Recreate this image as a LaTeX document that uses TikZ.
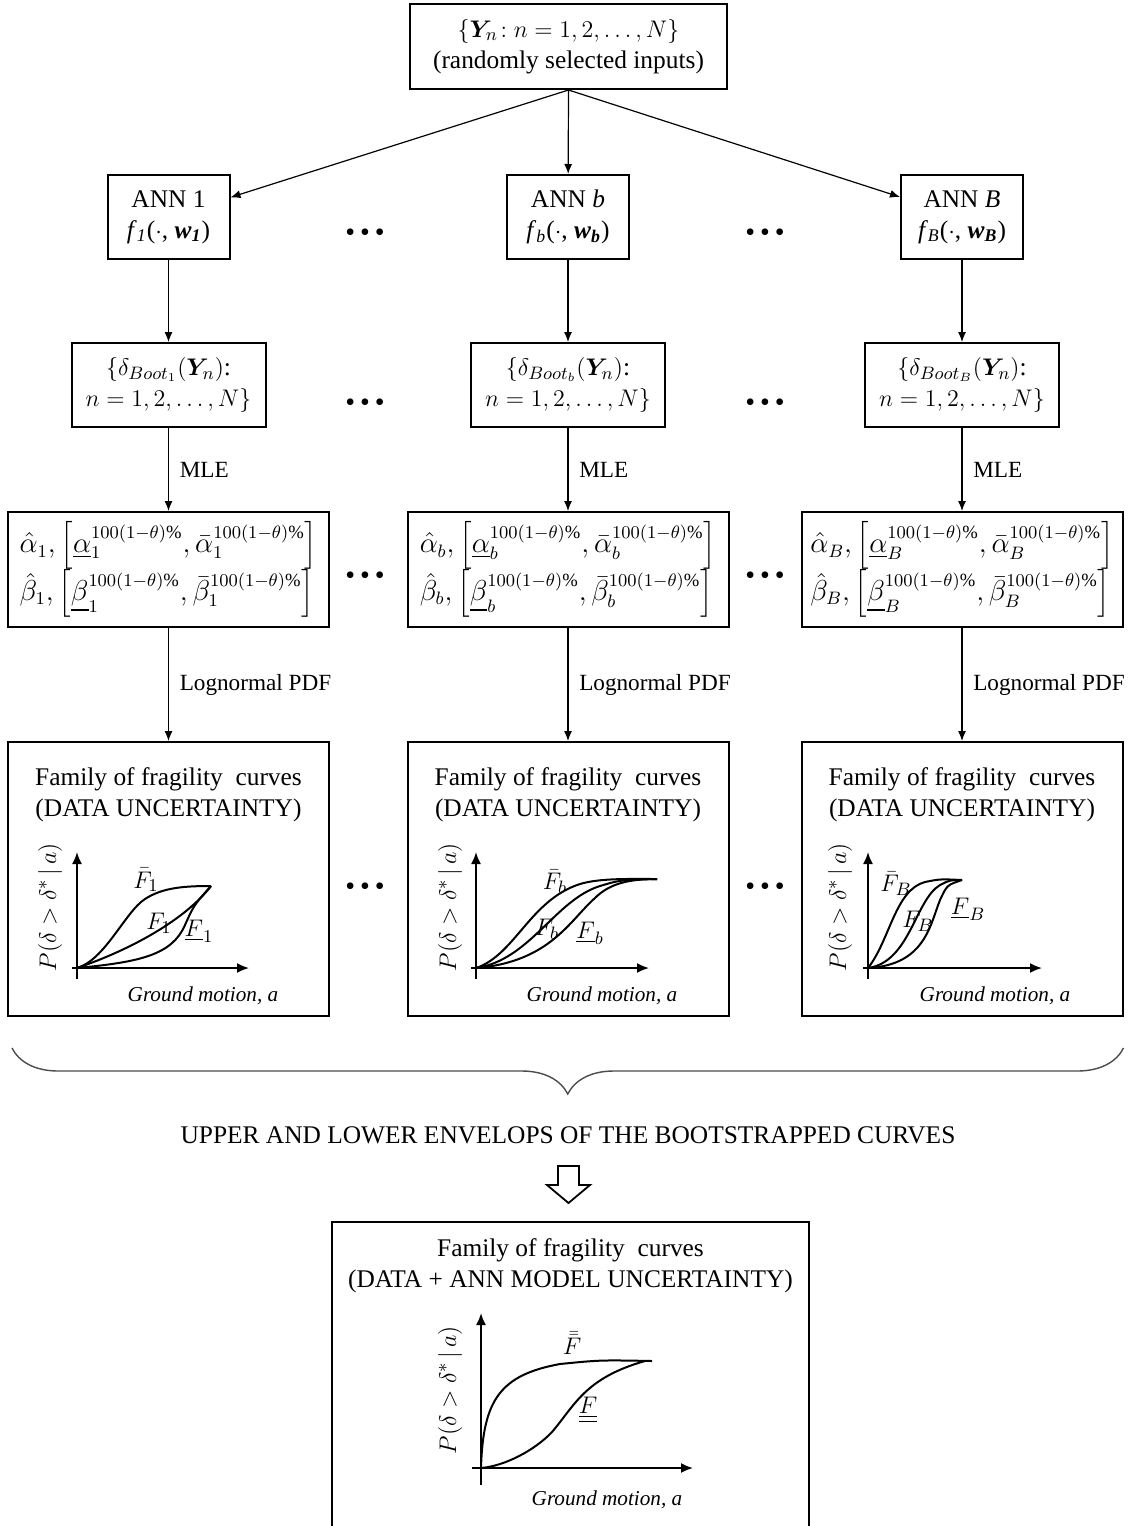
\documentclass[tikz,border=0pt]{standalone}
\usepackage{amsmath}
\usepackage{amssymb}
\usepackage{bm}
\usepackage{fontspec}
\setmainfont{Liberation Serif}
\usetikzlibrary{arrows.meta,decorations.pathreplacing}

\newcommand{\ciexp}{100(1-\theta)\%}
\newcommand{\moredots}{\textbullet\hspace{2.5pt}\textbullet\hspace{2.5pt}\textbullet}

\begin{document}
\begin{tikzpicture} [
    x=0.5pt, y=-0.5pt,
    font=\fontsize{12.7}{15.5}\selectfont,
    block/.style    = { rectangle, draw, line width=1pt, text centered,
                        align=center, inner sep=2pt },
    annblock/.style = { block, minimum width=61pt, minimum height=42pt },
    bootblock/.style= { block, minimum width=97pt, minimum height=42pt },
    estblock/.style = { block, align=left, minimum width=160.5pt, minimum height=57.5pt,
                        inner sep=1pt, font=\fontsize{13.3}{15.5}\selectfont },
    fragblock/.style= { block, minimum width=160.5pt, minimum height=137pt },
    line/.style     = { draw, line width=0.6pt, -{Latex[length=5pt,width=4pt]} },
    lbl/.style      = { right, xshift=2pt, font=\fontsize{11.6}{14}\selectfont },
    axis/.style     = { line width=0.9pt, -{Latex[length=6pt,width=5pt]} },
    curve/.style    = { line width=1pt },
    gm/.style       = { font=\fontsize{10.6}{12}\selectfont\itshape },
    more/.style     = { inner sep=0pt, font=\fontsize{14}{14}\selectfont },
  ]

  \useasboundingbox (0,0) rectangle (1132,1526);

  % Define nodes
  \node[block, minimum width=158.5pt, minimum height=42.5pt] (inputs) at (568.5,46.5)
    {$\{\bm{Y}_n\!: n=1,2,\ldots,N\}$\\(randomly selected inputs)};

  \node[annblock] (ann1) at (168.5,217) {ANN 1\\\textit{f}\textsubscript{\textit{1}}($\cdot$, \textbf{\textit{w}}\textsubscript{\textbf{\textit{1}}})};
  \node[annblock] (annb) at (568,217) {ANN \textit{b}\\\textit{f}\textsubscript{\textit{b}}($\cdot$, \textbf{\textit{w}}\textsubscript{\textbf{\textit{b}}})};
  \node[annblock] (annB) at (962,217) {ANN \textit{B}\\\textit{f}\textsubscript{\textit{B}}($\cdot$, \textbf{\textit{w}}\textsubscript{\textbf{\textit{B}}})};

  \node[bootblock] (boot1) at (168.5,385) {$\{\delta_{Boot_1}(\bm{Y}_n)$:\\$n=1,2,\ldots,N\}$};
  \node[bootblock] (bootb) at (568,385) {$\{\delta_{Boot_b}(\bm{Y}_n)$:\\$n=1,2,\ldots,N\}$};
  \node[bootblock] (bootB) at (962,385) {$\{\delta_{Boot_B}(\bm{Y}_n)$:\\$n=1,2,\ldots,N\}$};

  \node[estblock] (est1) at (168.5,569.5)
    {$\hat{\alpha}_1,\left[\underline{\alpha}_1^{\ciexp},\bar{\alpha}_1^{\ciexp}\right]$\\[-1pt]
     $\hat{\beta}_1,\left[\underline{\beta}_1^{\ciexp},\bar{\beta}_1^{\ciexp}\right]$};
  \node[estblock] (estb) at (568,569.5)
    {$\hat{\alpha}_b,\left[\underline{\alpha}_b^{\ciexp},\bar{\alpha}_b^{\ciexp}\right]$\\[-1pt]
     $\hat{\beta}_b,\left[\underline{\beta}_b^{\ciexp},\bar{\beta}_b^{\ciexp}\right]$};
  \node[estblock] (estB) at (962,569.5)
    {$\hat{\alpha}_B,\left[\underline{\alpha}_B^{\ciexp},\bar{\alpha}_B^{\ciexp}\right]$\\[-1pt]
     $\hat{\beta}_B,\left[\underline{\beta}_B^{\ciexp},\bar{\beta}_B^{\ciexp}\right]$};

  \node[fragblock] (frag1) at (168.5,879) {};
  \node[fragblock] (fragb) at (568,879) {};
  \node[fragblock] (fragB) at (962,879) {};
  \node[align=center] (title1) at (168.5,795) {Family of fragility\ \ curves\\(DATA UNCERTAINTY)};
  \node[align=center] (titleb) at (568,795) {Family of fragility\ \ curves\\(DATA UNCERTAINTY)};
  \node[align=center] (titleB) at (962,795) {Family of fragility\ \ curves\\(DATA UNCERTAINTY)};

  \node[more] (more11) at (365,235) {\moredots};
  \node[more] (more12) at (765,235) {\moredots};
  \node[more] (more21) at (365,405) {\moredots};
  \node[more] (more22) at (765,405) {\moredots};
  \node[more] (more31) at (365,578) {\moredots};
  \node[more] (more32) at (765,578) {\moredots};
  \node[more] (more41) at (365,889) {\moredots};
  \node[more] (more42) at (765,889) {\moredots};

  \node (envelop) at (568,1135) {UPPER AND LOWER ENVELOPS OF THE BOOTSTRAPPED CURVES};

  \node[block, minimum width=238.5pt, minimum height=159pt] (final) at (570.5,1381) {};
  \node[align=center] (titlefinal) at (570.5,1265.5) {Family of fragility\ \ curves\\(DATA + ANN MODEL UNCERTAINTY)};

  % fragility curves, ANN 1
  \draw[axis] (77,979) -- (77,852);
  \draw[axis] (72,968) -- (249,968);
  \draw[curve] (77,968) .. controls (105,960) and (125,912) .. (145,899) .. controls (162,888) and (182,886) .. (211,886);
  \draw[curve] (77,968) .. controls (130,950) and (185,920) .. (211,886);
  \draw[curve] (77,968) .. controls (140,962) and (172,955) .. (185,925) .. controls (194,905) .. (211,886);
  \node at (146,880) {$\bar{F}_1$};
  \node at (159,923) {$F_1$};
  \node at (199,931) {$\underline{F}_1$};
  \node[rotate=90] at (50,907) {$P(\delta>\delta^*\,|\,a)$};
  \node[gm] at (203,996) {Ground motion, a};

  % fragility curves, ANN b
  \draw[axis] (476,979) -- (476,852);
  \draw[axis] (471,968) -- (649,968);
  \draw[curve] (476,968) .. controls (515,955) and (530,900) .. (580,884) .. controls (600,878) and (630,879) .. (657,879);
  \draw[curve] (476,968) .. controls (530,960) and (555,900) .. (600,886) .. controls (620,880) .. (657,879);
  \draw[curve] (476,968) .. controls (550,962) and (570,920) .. (595,898) .. controls (610,883) and (630,879) .. (657,879);
  \node at (555,882) {$\bar{F}_b$};
  \node at (547,929) {$F_b$};
  \node at (590,933) {$\underline{F}_b$};
  \node[rotate=90] at (450,907) {$P(\delta>\delta^*\,|\,a)$};
  \node[gm] at (602,996) {Ground motion, a};

  % fragility curves, ANN B
  \draw[axis] (868,979) -- (868,852);
  \draw[axis] (863,968) -- (1042,968);
  \draw[curve] (868,968) .. controls (890,940) and (895,890) .. (925,882) .. controls (940,879) .. (962,880);
  \draw[curve] (868,968) .. controls (910,962) and (915,900) .. (940,885) .. controls (950,880) .. (962,880);
  \draw[curve] (868,968) .. controls (925,965) and (930,925) .. (940,900) .. controls (947,885) .. (962,880);
  \node at (896,884) {$\bar{F}_B$};
  \node at (918,921) {$F_B$};
  \node at (968,909) {$\underline{F}_B$};
  \node[rotate=90] at (840,907) {$P(\delta>\delta^*\,|\,a)$};
  \node[gm] at (995,996) {Ground motion, a};

  % fragility curves, envelopes
  \draw[axis] (481,1485) -- (481,1313);
  \draw[axis] (472,1468) -- (693,1468);
  \draw[curve] (481,1468) .. controls (483,1400) and (500,1375) .. (560,1364) .. controls (600,1360) .. (652,1361);
  \draw[curve] (481,1468) .. controls (505,1466) and (535,1450) .. (552,1432) .. controls (575,1405) and (585,1378) .. (645,1361);
  \node at (572,1343) {$\bar{\bar{F}}$};
  \node at (588,1410) {$\underline{\underline{F}}$};
  \node[rotate=90] at (450,1390) {$P(\delta>\delta^*\,|\,a)$};
  \node[gm] at (607,1500) {Ground motion, a};

  % connect the nodes
  \path [line] (inputs.south) -- (ann1);
  \path [line] (inputs.south) -- (annb);
  \path [line] (inputs.south) -- (annB);
  \path [line] (ann1) -- (boot1);
  \path [line] (annb) -- (bootb);
  \path [line] (annB) -- (bootB);
  \path [line] (boot1) -- node[lbl]{MLE} (est1);
  \path [line] (bootb) -- node[lbl]{MLE} (estb);
  \path [line] (bootB) -- node[lbl]{MLE} (estB);
  \path [line] (est1) -- node[lbl]{Lognormal PDF} (frag1);
  \path [line] (estb) -- node[lbl]{Lognormal PDF} (fragb);
  \path [line] (estB) -- node[lbl]{Lognormal PDF} (fragB);

  \draw[gray!60!black, line width=0.7pt, decorate, decoration={brace, mirror, amplitude=23pt}]
    (frag1.south west) ++(5,31) coordinate (bl) -- (bl -| fragB.south east);

  \coordinate (harrow) at (568.5,1166);
  \draw[line width=0.9pt] (harrow) ++(-10.5,0) -- ++(21,0) -- ++(0,19) -- ++(11,0)
    -- ++(-21.5,18) -- ++(-21.5,-18) -- ++(11,0) -- cycle;
\end{tikzpicture}
\end{document}
